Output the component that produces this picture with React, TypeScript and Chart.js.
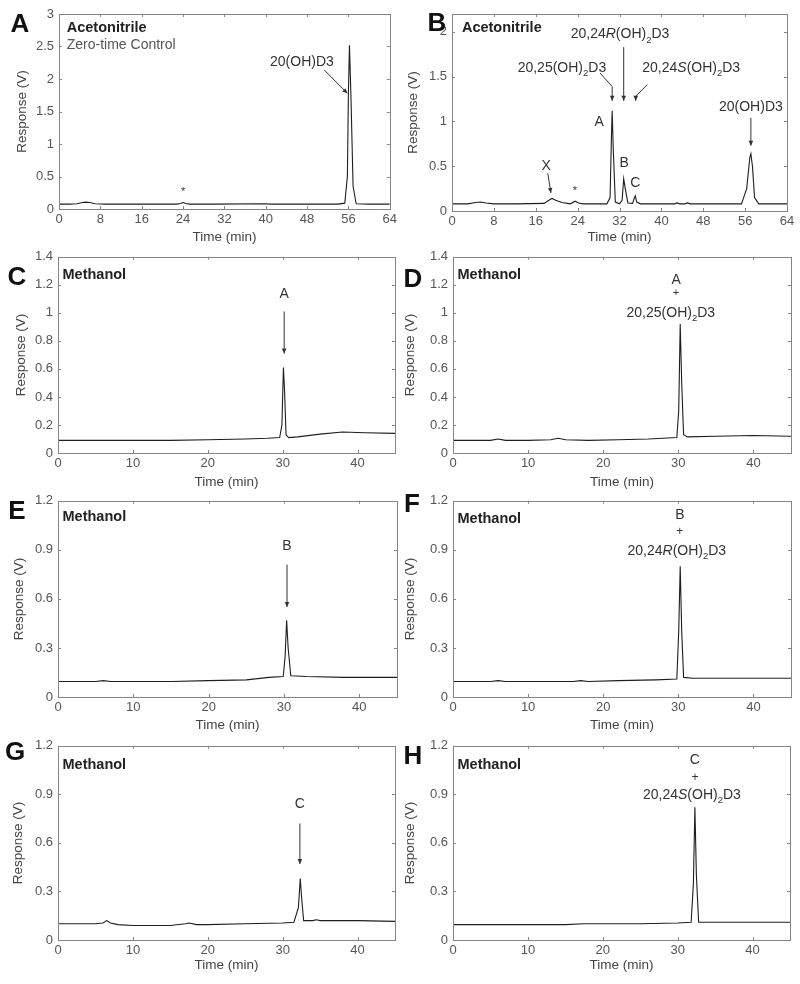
import React, { useEffect, useRef } from "react";
import { Chart, registerables } from "chart.js";
Chart.register(...registerables);

const FONT = '"Liberation Sans", Arial, Helvetica, sans-serif';

// ---------- tick labels ----------
const timeTicks64 = [0, 8, 16, 24, 32, 40, 48, 56, 64];
const timeTicks45 = [0, 10, 20, 30, 40];
const respTicksA = [0, 0.5, 1, 1.5, 2, 2.5, 3];
const respTicksB = [0, 0.5, 1, 1.5, 2];
const respTicksCD = [0, 0.2, 0.4, 0.6, 0.8, 1, 1.2, 1.4];
const respTicksEH = [0, 0.3, 0.6, 0.9, 1.2];

// ---------- series (time in min, response in V) ----------
const aTime = [0, 2, 3.5, 4.5, 5.2, 6, 7, 9, 16, 22.8, 23.5, 24, 24.5, 25.3, 30, 40, 41, 44, 48, 54, 55.3, 55.8, 56.0, 56.2, 56.5, 56.9, 57.5, 60, 64];
const aResp = [0.075, 0.075, 0.08, 0.1, 0.105, 0.1, 0.08, 0.075, 0.075, 0.075, 0.085, 0.1, 0.085, 0.075, 0.075, 0.08, 0.075, 0.075, 0.075, 0.075, 0.09, 0.5, 1.8, 2.52, 1.7, 0.35, 0.08, 0.075, 0.075];

const bTime = [0, 3, 4.5, 5.5, 6.5, 8, 12, 17.6, 18.5, 19.1, 19.8, 21, 22.6, 23.5, 24.2, 25, 29.6, 30.2, 30.45, 30.6, 30.8, 31.2, 32, 32.5, 32.8, 33.1, 33.6, 34.5, 34.8, 35.0, 35.3, 36, 42.5, 43, 43.5, 44.5, 45, 45.5, 55.3, 56.3, 56.9, 57.1, 57.4, 57.8, 58.6, 64];
const bResp = [0.08, 0.08, 0.095, 0.1, 0.09, 0.08, 0.08, 0.085, 0.12, 0.14, 0.12, 0.095, 0.08, 0.11, 0.09, 0.08, 0.08, 0.15, 0.8, 1.12, 0.7, 0.1, 0.08, 0.12, 0.36, 0.25, 0.09, 0.085, 0.14, 0.17, 0.1, 0.08, 0.08, 0.09, 0.08, 0.08, 0.09, 0.08, 0.08, 0.25, 0.6, 0.64, 0.5, 0.15, 0.08, 0.08];

const cTime = [0, 5, 10, 15, 20, 25, 28, 29.6, 29.9, 30.1, 30.25, 30.45, 30.8, 32, 35, 38, 41, 45];
const cResp = [0.09, 0.09, 0.09, 0.09, 0.095, 0.1, 0.105, 0.11, 0.2, 0.61, 0.45, 0.13, 0.11, 0.115, 0.135, 0.15, 0.145, 0.14];

const dTime = [0, 5, 6, 7, 10, 13, 14, 15, 18, 22, 26, 29.8, 30.05, 30.25, 30.45, 30.7, 31.2, 35, 40, 45];
const dResp = [0.09, 0.09, 0.1, 0.09, 0.09, 0.095, 0.105, 0.095, 0.09, 0.095, 0.1, 0.11, 0.3, 0.92, 0.5, 0.13, 0.115, 0.12, 0.125, 0.12];

const eTime = [0, 5, 6, 7, 10, 15, 20, 25, 28, 29.9, 30.15, 30.35, 30.55, 30.9, 33, 38, 45];
const eResp = [0.095, 0.095, 0.1, 0.095, 0.095, 0.095, 0.1, 0.105, 0.12, 0.125, 0.25, 0.47, 0.3, 0.13, 0.125, 0.12, 0.12];

const fTime = [0, 5, 6, 7, 10, 16, 17, 18, 22, 27, 29.8, 30.05, 30.25, 30.45, 30.7, 32, 38, 45];
const fResp = [0.095, 0.095, 0.1, 0.095, 0.095, 0.095, 0.1, 0.095, 0.1, 0.105, 0.11, 0.4, 0.8, 0.4, 0.12, 0.115, 0.115, 0.115];

const gTime = [0, 5, 6, 6.5, 7, 8, 10, 15, 17, 17.5, 18.5, 20, 25, 30, 31.5, 32.1, 32.35, 32.55, 32.8, 33.3, 34, 34.5, 35, 40, 45];
const gResp = [0.1, 0.1, 0.105, 0.12, 0.105, 0.095, 0.09, 0.09, 0.1, 0.105, 0.095, 0.095, 0.1, 0.105, 0.11, 0.2, 0.38, 0.25, 0.12, 0.12, 0.12, 0.125, 0.12, 0.12, 0.115];

const hTime = [0, 5, 10, 15, 17.5, 18, 20, 25, 30, 31.8, 32.1, 32.3, 32.5, 32.8, 34, 40, 45];
const hResp = [0.095, 0.095, 0.095, 0.095, 0.1, 0.1, 0.1, 0.1, 0.105, 0.11, 0.35, 0.82, 0.4, 0.11, 0.11, 0.11, 0.11];

// ---------- annotation types ----------
type Seg = { t: string; i?: boolean; sub?: boolean };
type Label = { x: number; y: number; segs: Seg[]; bold?: boolean; align?: "left" | "center"; size?: number; color?: string };
type Arrow = { pts: [number, number][] };

const methanol = (y: number): Label => ({ x: 0.6, y, segs: [{ t: "Methanol" }], bold: true, align: "left" });
const plain = (t: string, x: number, y: number, size?: number): Label => ({ x, y, segs: [{ t }], size });
const d25: Seg[] = [{ t: "20,25(OH)" }, { t: "2", sub: true }, { t: "D3" }];
const d24R: Seg[] = [{ t: "20,24" }, { t: "R", i: true }, { t: "(OH)" }, { t: "2", sub: true }, { t: "D3" }];
const d24S: Seg[] = [{ t: "20,24" }, { t: "S", i: true }, { t: "(OH)" }, { t: "2", sub: true }, { t: "D3" }];

type Panel = {
  key: string; letter: string; col: number; canvasTop: number; canvasH: number;
  area: { L: number; R: number; T: number; B: number };
  letterPos: [number, number]; yTitleX: number;
  time: number[]; resp: number[]; xMax: number; yMax: number; xTicks: number[]; yTicks: number[];
  labels: Label[]; arrows: Arrow[];
};

const panels: Panel[] = [
  {
    key: "A", letter: "A", col: 0, canvasTop: 0, canvasH: 249,
    area: { L: 59, R: 391, T: 14, B: 209 }, letterPos: [20, 25], yTitleX: 22,
    time: aTime, resp: aResp, xMax: 64, yMax: 3, xTicks: timeTicks64, yTicks: respTicksA,
    labels: [
      { x: 1.5, y: 2.78, segs: [{ t: "Acetonitrile" }], bold: true, align: "left" },
      { x: 1.5, y: 2.52, segs: [{ t: "Zero-time Control" }], align: "left", color: "#555" },
      plain("20(OH)D3", 47.0, 2.26),
      plain("*", 24, 0.26, 11),
    ],
    arrows: [{ pts: [[51.3, 2.14], [55.8, 1.78]] }],
  },
  {
    key: "B", letter: "B", col: 400, canvasTop: 0, canvasH: 249,
    area: { L: 452, R: 787, T: 14, B: 211 }, letterPos: [437, 24], yTitleX: 413,
    time: bTime, resp: bResp, xMax: 64, yMax: 2.2, xTicks: timeTicks64, yTicks: respTicksB,
    labels: [
      { x: 1.9, y: 2.04, segs: [{ t: "Acetonitrile" }], bold: true, align: "left" },
      { x: 32.1, y: 1.97, segs: d24R },
      { x: 21.0, y: 1.6, segs: d25 },
      { x: 45.7, y: 1.6, segs: d24S },
      plain("A", 28.1, 0.99), plain("B", 32.9, 0.54), plain("C", 35.0, 0.31),
      plain("X", 18.0, 0.5), plain("*", 23.5, 0.22, 11), plain("20(OH)D3", 57.1, 1.16),
    ],
    arrows: [
      { pts: [[28.3, 1.54], [30.6, 1.39], [30.6, 1.23]] },
      { pts: [[32.8, 1.83], [32.8, 1.23]] },
      { pts: [[37.3, 1.41], [35.1, 1.28], [35.1, 1.23]] },
      { pts: [[18.3, 0.42], [18.9, 0.2]] },
      { pts: [[57.1, 1.04], [57.1, 0.73]] },
    ],
  },
  {
    key: "C", letter: "C", col: 0, canvasTop: 244, canvasH: 250,
    area: { L: 58, R: 395, T: 255, B: 453 }, letterPos: [17, 278], yTitleX: 21,
    time: cTime, resp: cResp, xMax: 45, yMax: 1.4, xTicks: timeTicks45, yTicks: respTicksCD,
    labels: [methanol(1.27), plain("A", 30.2, 1.13)],
    arrows: [{ pts: [[30.2, 1.01], [30.2, 0.71]] }],
  },
  {
    key: "D", letter: "D", col: 400, canvasTop: 244, canvasH: 250,
    area: { L: 453, R: 791, T: 255, B: 453 }, letterPos: [413, 280], yTitleX: 410,
    time: dTime, resp: dResp, xMax: 45, yMax: 1.4, xTicks: timeTicks45, yTicks: respTicksCD,
    labels: [methanol(1.27), plain("A", 29.7, 1.235), plain("+", 29.7, 1.145, 11), { x: 29.0, y: 1.0, segs: d25 }],
    arrows: [],
  },
  {
    key: "E", letter: "E", col: 0, canvasTop: 488, canvasH: 249,
    area: { L: 58, R: 397, T: 498, B: 697 }, letterPos: [17, 512], yTitleX: 19,
    time: eTime, resp: eResp, xMax: 45, yMax: 1.2, xTicks: timeTicks45, yTicks: respTicksEH,
    labels: [methanol(1.1), plain("B", 30.4, 0.92)],
    arrows: [{ pts: [[30.4, 0.81], [30.4, 0.55]] }],
  },
  {
    key: "F", letter: "F", col: 400, canvasTop: 488, canvasH: 249,
    area: { L: 453, R: 791, T: 498, B: 697 }, letterPos: [412, 505], yTitleX: 410,
    time: fTime, resp: fResp, xMax: 45, yMax: 1.2, xTicks: timeTicks45, yTicks: respTicksEH,
    labels: [methanol(1.09), plain("B", 30.2, 1.11), plain("+", 30.2, 1.01, 12), { x: 29.8, y: 0.89, segs: d24R }],
    arrows: [],
  },
  {
    key: "G", letter: "G", col: 0, canvasTop: 733, canvasH: 244,
    area: { L: 58, R: 395, T: 743, B: 940 }, letterPos: [15, 753], yTitleX: 18,
    time: gTime, resp: gResp, xMax: 45, yMax: 1.2, xTicks: timeTicks45, yTicks: respTicksEH,
    labels: [methanol(1.08), plain("C", 32.3, 0.84)],
    arrows: [{ pts: [[32.3, 0.72], [32.3, 0.47]] }],
  },
  {
    key: "H", letter: "H", col: 400, canvasTop: 733, canvasH: 244,
    area: { L: 453, R: 790, T: 743, B: 940 }, letterPos: [413, 757], yTitleX: 410,
    time: hTime, resp: hResp, xMax: 45, yMax: 1.2, xTicks: timeTicks45, yTicks: respTicksEH,
    labels: [methanol(1.08), plain("C", 32.3, 1.11), plain("+", 32.3, 1.0, 12), { x: 31.9, y: 0.895, segs: d24S }],
    arrows: [],
  },
];

const TICK_SIZE = 13;
const TITLE_SIZE = 13.5;
const TITLE_LH = TITLE_SIZE * 1.2;

const fmt = (v: number) => String(Math.round(v * 100) / 100);

function drawRich(ctx: CanvasRenderingContext2D, l: Label, px: number, py: number) {
  const size = l.size || (l.bold ? 14.5 : 14);
  const fontFor = (s: Seg) =>
    `${s.i ? "italic " : ""}${l.bold ? "bold " : ""}${s.sub ? size * 0.68 : size}px ${FONT}`;
  let total = 0;
  const widths = l.segs.map((s) => {
    ctx.font = fontFor(s);
    const w = ctx.measureText(s.t).width;
    total += w;
    return w;
  });
  let cur = l.align === "left" ? px : px - total / 2;
  ctx.textAlign = "left";
  ctx.textBaseline = "middle";
  ctx.fillStyle = l.color || (l.bold ? "#222" : "#333");
  l.segs.forEach((s, i) => {
    ctx.font = fontFor(s);
    ctx.fillText(s.t, cur, s.sub ? py + size * 0.38 : py);
    cur += widths[i];
  });
}

function makePlugin(p: Panel) {
  return {
    id: "deco" + p.key,
    afterDatasetsDraw(chart: any) {
      const ctx: CanvasRenderingContext2D = chart.ctx;
      const { left, right, top, bottom } = chart.chartArea;
      const xs = chart.scales.x;
      const ys = chart.scales.y;
      ctx.save();
      // frame
      ctx.strokeStyle = "#858585";
      ctx.lineWidth = 1;
      ctx.strokeRect(Math.round(left) + 0.5, Math.round(top) + 0.5, Math.round(right - left), Math.round(bottom - top));
      // inward ticks on all sides
      ctx.beginPath();
      p.xTicks.forEach((v) => {
        const x = Math.round(xs.getPixelForValue(v)) + 0.5;
        ctx.moveTo(x, bottom); ctx.lineTo(x, bottom - 3);
        ctx.moveTo(x, top); ctx.lineTo(x, top + 3);
      });
      p.yTicks.forEach((v) => {
        const y = Math.round(ys.getPixelForValue(v)) + 0.5;
        ctx.moveTo(left, y); ctx.lineTo(left + 3, y);
        ctx.moveTo(right, y); ctx.lineTo(right - 3, y);
      });
      ctx.stroke();
      // arrows
      ctx.strokeStyle = "#333";
      ctx.fillStyle = "#333";
      p.arrows.forEach((a) => {
        const pts = a.pts.map(([x, y]) => [xs.getPixelForValue(x), ys.getPixelForValue(y)]);
        ctx.beginPath();
        ctx.moveTo(pts[0][0], pts[0][1]);
        for (let i = 1; i < pts.length; i++) ctx.lineTo(pts[i][0], pts[i][1]);
        ctx.lineWidth = 1;
        ctx.stroke();
        const [x1, y1] = pts[pts.length - 2];
        const [x2, y2] = pts[pts.length - 1];
        const ang = Math.atan2(y2 - y1, x2 - x1);
        const L = 5, W = 2.3;
        const c = Math.cos(ang), s = Math.sin(ang);
        ctx.beginPath();
        ctx.moveTo(x2, y2);
        ctx.lineTo(x2 - L * c + W * s, y2 - L * s - W * c);
        ctx.lineTo(x2 - L * c - W * s, y2 - L * s + W * c);
        ctx.closePath();
        ctx.fill();
      });
      // labels
      p.labels.forEach((l) => drawRich(ctx, l, xs.getPixelForValue(l.x), ys.getPixelForValue(l.y)));
      // panel letter
      ctx.font = `bold 26px ${FONT}`;
      ctx.fillStyle = "#111";
      ctx.textAlign = "center";
      ctx.textBaseline = "middle";
      ctx.fillText(p.letter, p.letterPos[0] - p.col, p.letterPos[1] - p.canvasTop);
      ctx.restore();
    },
  };
}

function PanelChart({ p }: { p: Panel }) {
  const ref = useRef<HTMLCanvasElement>(null);
  useEffect(() => {
    const canvas = ref.current;
    if (!canvas) return;
    const { L, R, T, B } = p.area;
    const chart = new Chart(canvas, {
      type: "line",
      data: {
        datasets: [
          {
            data: p.time.map((t, i) => ({ x: t, y: p.resp[i] })),
            borderColor: "#1e1e1e",
            borderWidth: 1.1,
            pointRadius: 0,
            tension: 0,
            fill: false,
          },
        ],
      },
      options: {
        responsive: false,
        animation: false,
        devicePixelRatio: 1,
        events: [],
        layout: { padding: { top: T - p.canvasTop, right: p.col + 400 - R, left: 0, bottom: 0 } },
        plugins: { legend: { display: false }, tooltip: { enabled: false } },
        scales: {
          x: {
            type: "linear",
            position: "bottom",
            min: 0,
            max: p.xMax,
            afterBuildTicks: (s: any) => { s.ticks = p.xTicks.map((v) => ({ value: v })); },
            afterFit: (s: any) => { s.height = p.canvasTop + p.canvasH - B; },
            grid: { display: false, drawTicks: false },
            border: { display: false },
            ticks: {
              color: "#555",
              font: { family: FONT, size: TICK_SIZE },
              padding: 3,
              maxRotation: 0,
              autoSkip: false,
              callback: (v: any) => fmt(Number(v)),
            },
            title: {
              display: true,
              text: "Time (min)",
              color: "#444",
              font: { family: FONT, size: TITLE_SIZE },
              padding: { top: 0, bottom: 4 },
            },
          },
          y: {
            type: "linear",
            position: "left",
            min: 0,
            max: p.yMax,
            afterBuildTicks: (s: any) => { s.ticks = p.yTicks.map((v) => ({ value: v })); },
            afterFit: (s: any) => { s.width = L - p.col; },
            grid: { display: false, drawTicks: false },
            border: { display: false },
            ticks: {
              color: "#555",
              font: { family: FONT, size: TICK_SIZE },
              padding: 5,
              autoSkip: false,
              callback: (v: any) => fmt(Number(v)),
            },
            title: {
              display: true,
              text: "Response (V)",
              color: "#444",
              font: { family: FONT, size: TITLE_SIZE },
              padding: { top: p.yTitleX - p.col - TITLE_LH / 2, bottom: 0 },
            },
          },
        },
      },
      plugins: [makePlugin(p)],
    } as any);
    return () => chart.destroy();
  }, [p]);
  return (
    <canvas
      ref={ref}
      width={400}
      height={p.canvasH}
      style={{ position: "absolute", left: p.col, top: p.canvasTop, width: 400, height: p.canvasH }}
    />
  );
}

export default function App() {
  return (
    <div style={{ position: "absolute", left: 0, top: 0, width: 800, height: 984, background: "#fff" }}>
      {panels.map((p) => (
        <PanelChart key={p.key} p={p} />
      ))}
    </div>
  );
}
